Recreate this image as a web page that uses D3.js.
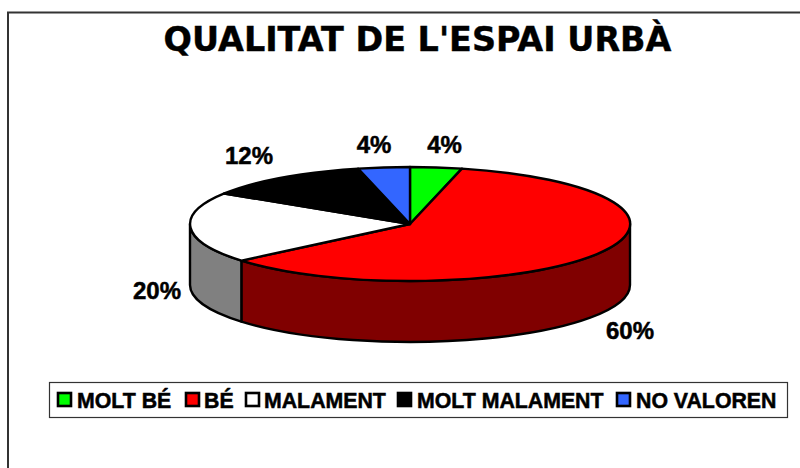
<!DOCTYPE html>
<html><head><meta charset="utf-8">
<script src="https://cdn.jsdelivr.net/npm/d3@7/dist/d3.min.js"></script>
<style>html,body{margin:0;padding:0;background:#fff;overflow:hidden}svg{display:block}</style>
</head><body><svg id="c" width="800" height="468"></svg>
<script>
const titleText = "QUALITAT DE L'ESPAI URBÀ";
const categories = ["MOLT BÉ","BÉ","MALAMENT","MOLT MALAMENT","NO VALOREN"];
const values = [3.8,60.1,20.1,12.2,3.8];
const topColors = ["#00ff00","#ff0000","#ffffff","#000000","#3366ff"];
const sideColors = ["#008000","#800000","#808080","#000000","#1a3380"];
const labelPos = [[444.5,144],[630,330],[157,290],[249,155],[374,144]];
const legendX = [[58,77],[186,204],[246,264],[398,417],[617,636]];

const svg = d3.select("#c");
const cx=410, cy=224, rx=220, ry=57, depth=61;

svg.append("rect").attr("x",8).attr("y",12.5).attr("width",860).attr("height",500)
  .attr("fill","#fff").attr("stroke","#333").attr("stroke-width",2);

svg.append("text").attr("x",417.5).attr("y",51).attr("text-anchor","middle")
  .attr("font-family","DejaVu Sans").attr("font-weight","bold").attr("font-size",33.4).attr("fill","#000")
  .attr("stroke","#000").attr("stroke-width",0.4).text(titleText);

const pie = d3.pie().sort(null)(values);
const pt = a => [cx+rx*Math.sin(a), cy-ry*Math.cos(a)];

const g = svg.append("g");
pie.forEach((d,i)=>{
  const a0=Math.max(d.startAngle,Math.PI/2), a1=Math.min(d.endAngle,Math.PI*1.5);
  if(a1<=a0) return;
  const [x0,y0]=pt(a0),[x1,y1]=pt(a1);
  const large=a1-a0>Math.PI?1:0;
  g.append("path")
    .attr("d",`M${x0},${y0}A${rx},${ry} 0 ${large} 1 ${x1},${y1}L${x1},${y1+depth}A${rx},${ry} 0 ${large} 0 ${x0},${y0+depth}Z`)
    .attr("fill",sideColors[i]).attr("stroke","#000").attr("stroke-width",2.4).attr("stroke-linejoin","round");
});
const arc = d3.arc().innerRadius(0).outerRadius(1);
g.selectAll(".top").data(pie).join("path")
  .attr("transform",`translate(${cx},${cy}) scale(${rx},${ry})`)
  .attr("d",arc).attr("fill",(d,i)=>topColors[i])
  .attr("stroke","#000").attr("stroke-width",2.4).attr("vector-effect","non-scaling-stroke").attr("stroke-linejoin","round");

svg.selectAll(".lab").data(values).join("text")
  .attr("x",(d,i)=>labelPos[i][0]).attr("y",(d,i)=>labelPos[i][1]+9)
  .attr("text-anchor","middle")
  .attr("font-family","Liberation Sans").attr("font-weight","bold").attr("font-size",24).attr("fill","#000")
  .attr("stroke","#000").attr("stroke-width",0.5)
  .text(d=>Math.round(d)+"%");

svg.append("rect").attr("x",49.5).attr("y",382.5).attr("width",738).attr("height",35)
  .attr("fill","#fff").attr("stroke","#333").attr("stroke-width",1.2);
categories.forEach((c,i)=>{
  svg.append("rect").attr("x",legendX[i][0]).attr("y",393).attr("width",13).attr("height",13)
    .attr("fill",topColors[i]).attr("stroke","#000").attr("stroke-width",2.6);
  svg.append("text").attr("x",legendX[i][1]).attr("y",408)
    .attr("font-family","Liberation Sans").attr("font-weight","bold").attr("font-size",21.3).attr("fill","#000")
    .attr("stroke","#000").attr("stroke-width",0.5).text(c);
});
</script></body></html>
